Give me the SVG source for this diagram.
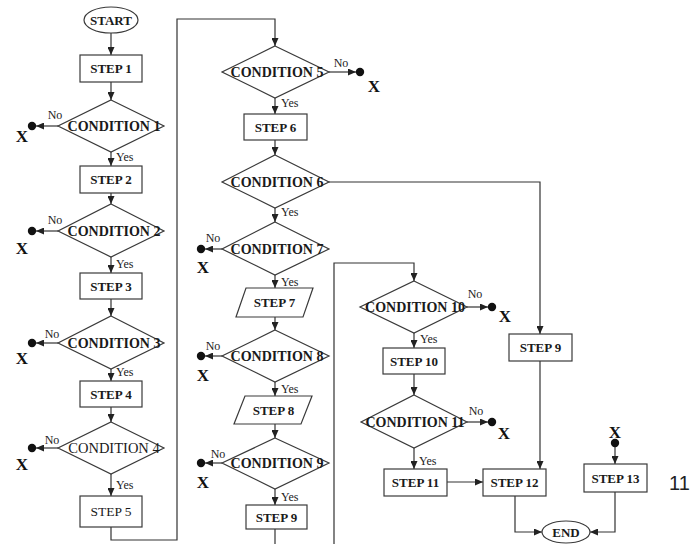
<svg xmlns="http://www.w3.org/2000/svg" width="700" height="544" viewBox="0 0 700 544">
<defs>
<style>
.sh{fill:#fff;stroke:#3a3a3a;stroke-width:1.2}
.ln{fill:none;stroke:#333;stroke-width:1.2}
.ar{marker-end:url(#ah)}
.dot{fill:#111}
.t{font-family:"Liberation Serif","Times New Roman",serif;fill:#1a1a1a;text-anchor:middle}
.b{font-weight:bold;font-size:13px}
.r{font-size:13.5px}
.c{font-weight:bold;font-size:14px}
.cr{font-size:14.5px}
.lbl{font-family:"Liberation Serif","Times New Roman",serif;font-size:12px;fill:#222}
.x{font-family:"Liberation Serif","Times New Roman",serif;font-weight:bold;font-size:17px;fill:#111;text-anchor:middle}
</style>
<marker id="ah" markerWidth="8" markerHeight="7" refX="8" refY="3.5" orient="auto" markerUnits="userSpaceOnUse">
<path d="M0,0 L8,3.5 L0,7 z" fill="#222"/>
</marker>
</defs>
<rect width="700" height="544" fill="#fff"/>

<g id="connectors">
<path class="ln ar" d="M111,33 V55"/>
<path class="ln ar" d="M111,82 V100"/>
<path class="ln ar" d="M58,126 H36"/>
<path class="ln ar" d="M111,152 V166"/>
<path class="ln ar" d="M111,193 V204"/>
<path class="ln ar" d="M58,231 H36"/>
<path class="ln ar" d="M111,257 V273"/>
<path class="ln ar" d="M111,299 V316"/>
<path class="ln ar" d="M58,343 H36"/>
<path class="ln ar" d="M111,369 V381"/>
<path class="ln ar" d="M111,407 V422"/>
<path class="ln ar" d="M58,448 H36"/>
<path class="ln ar" d="M111,474 V496"/>
<path class="ln ar" d="M111,527 V540 H177 V19 H275 V46"/>
<path class="ln ar" d="M329,72 H356"/>
<path class="ln ar" d="M275,98 V114"/>
<path class="ln ar" d="M275,140 V155"/>
<path class="ln ar" d="M329,182 H540 V334"/>
<path class="ln ar" d="M275,208 V222"/>
<path class="ln ar" d="M222,249 H205"/>
<path class="ln ar" d="M275,275 V288"/>
<path class="ln ar" d="M275,317 V330"/>
<path class="ln ar" d="M222,356 H205"/>
<path class="ln ar" d="M275,382 V396"/>
<path class="ln ar" d="M275,424 V438"/>
<path class="ln ar" d="M222,463 H205"/>
<path class="ln ar" d="M275,489 V505"/>
<path class="ln" d="M275,529 V544"/>
<path class="ln ar" d="M334,544 V263 H414 V281"/>
<path class="ln ar" d="M467,307 H488"/>
<path class="ln ar" d="M414,333 V348"/>
<path class="ln ar" d="M414,374 V395"/>
<path class="ln ar" d="M467,422 H488"/>
<path class="ln ar" d="M414,448 V469"/>
<path class="ln ar" d="M447,482 H483"/>
<path class="ln ar" d="M540,361 V469"/>
<path class="ln ar" d="M515,496 V532 H542"/>
<path class="ln ar" d="M615,492 V532 H590"/>
<path class="ln ar" d="M615,447 V464"/>
<circle class="dot" cx="32" cy="126" r="4.2"/>
<circle class="dot" cx="32" cy="231" r="4.2"/>
<circle class="dot" cx="32" cy="343" r="4.2"/>
<circle class="dot" cx="32" cy="448" r="4.2"/>
<circle class="dot" cx="360" cy="72" r="4.2"/>
<circle class="dot" cx="201" cy="249" r="4.2"/>
<circle class="dot" cx="201" cy="356" r="4.2"/>
<circle class="dot" cx="201" cy="463" r="4.2"/>
<circle class="dot" cx="492" cy="307" r="4.2"/>
<circle class="dot" cx="492" cy="422" r="4.2"/>
<circle class="dot" cx="615" cy="443" r="4.2"/>
<text class="lbl" x="55" y="119" text-anchor="middle">No</text>
<text class="lbl" x="55" y="224" text-anchor="middle">No</text>
<text class="lbl" x="52" y="338" text-anchor="middle">No</text>
<text class="lbl" x="52" y="444" text-anchor="middle">No</text>
<text class="lbl" x="341" y="67" text-anchor="middle">No</text>
<text class="lbl" x="213" y="242" text-anchor="middle">No</text>
<text class="lbl" x="213" y="350" text-anchor="middle">No</text>
<text class="lbl" x="218" y="458" text-anchor="middle">No</text>
<text class="lbl" x="475" y="298" text-anchor="middle">No</text>
<text class="lbl" x="476" y="415" text-anchor="middle">No</text>
<text class="lbl" x="116" y="161">Yes</text>
<text class="lbl" x="116" y="268">Yes</text>
<text class="lbl" x="116" y="376">Yes</text>
<text class="lbl" x="116" y="489">Yes</text>
<text class="lbl" x="281" y="107">Yes</text>
<text class="lbl" x="281" y="216">Yes</text>
<text class="lbl" x="281" y="286">Yes</text>
<text class="lbl" x="281" y="393">Yes</text>
<text class="lbl" x="281" y="501">Yes</text>
<text class="lbl" x="420" y="343">Yes</text>
<text class="lbl" x="419" y="465">Yes</text>
<text class="x" x="22" y="142">X</text>
<text class="x" x="22" y="254">X</text>
<text class="x" x="22" y="364">X</text>
<text class="x" x="22" y="470">X</text>
<text class="x" x="374" y="92">X</text>
<text class="x" x="203" y="273">X</text>
<text class="x" x="203" y="381">X</text>
<text class="x" x="203" y="488">X</text>
<text class="x" x="505" y="322">X</text>
<text class="x" x="504" y="439">X</text>
<text class="x" x="615" y="438">X</text>
</g>

<g id="start"><ellipse class="sh" cx="111" cy="20" rx="27" ry="13"/><text class="t b" x="111" y="24.5" font-size="12.5">START</text></g>
<g id="step1"><rect class="sh" x="80" y="55" width="62" height="27"/><text class="t b" x="111" y="73">STEP 1</text></g>
<g id="cond1"><polygon class="sh" points="111,100 164,126 111,152 58,126"/><text class="t c" x="114" y="131">CONDITION 1</text></g>
<g id="step2"><rect class="sh" x="80" y="166" width="62" height="27"/><text class="t b" x="111" y="184">STEP 2</text></g>
<g id="cond2"><polygon class="sh" points="111,204 164,231 111,257 58,231"/><text class="t c" x="114" y="236">CONDITION 2</text></g>
<g id="step3"><rect class="sh" x="80" y="273" width="62" height="26"/><text class="t b" x="111" y="290.5">STEP 3</text></g>
<g id="cond3"><polygon class="sh" points="111,316 164,343 111,369 58,343"/><text class="t c" x="114" y="348">CONDITION 3</text></g>
<g id="step4"><rect class="sh" x="80" y="381" width="62" height="26"/><text class="t b" x="111" y="398.5">STEP 4</text></g>
<g id="cond4"><polygon class="sh" points="111,422 164,448 111,474 58,448"/><text class="t cr" x="114" y="453">CONDITION 4</text></g>
<g id="step5"><rect class="sh" x="80" y="496" width="62" height="31"/><text class="t r" x="111" y="516">STEP 5</text></g>

<g id="cond5"><polygon class="sh" points="275,46 329,72 275,98 222,72"/><text class="t c" x="277" y="77">CONDITION 5</text></g>
<g id="step6"><rect class="sh" x="244" y="114" width="63" height="26"/><text class="t b" x="275.5" y="131.5">STEP 6</text></g>
<g id="cond6"><polygon class="sh" points="275,155 329,182 275,208 222,182"/><text class="t c" x="277" y="187">CONDITION 6</text></g>
<g id="cond7"><polygon class="sh" points="275,222 329,249 275,275 222,249"/><text class="t c" x="277" y="254">CONDITION 7</text></g>
<g id="step7"><polygon class="sh" points="246,288 313,288 303,317 236,317"/><text class="t b" x="274.5" y="307">STEP 7</text></g>
<g id="cond8"><polygon class="sh" points="275,330 329,356 275,382 222,356"/><text class="t c" x="277" y="361">CONDITION 8</text></g>
<g id="step8"><polygon class="sh" points="245,396 312,396 301,424 234,424"/><text class="t b" x="273.5" y="414.5">STEP 8</text></g>
<g id="cond9"><polygon class="sh" points="275,438 329,463 275,489 222,463"/><text class="t c" x="277" y="468">CONDITION 9</text></g>
<g id="step9a"><rect class="sh" x="246" y="505" width="61" height="24"/><text class="t b" x="276.5" y="521.5">STEP 9</text></g>

<g id="cond10"><polygon class="sh" points="414,281 467,307 414,333 360,307"/><text class="t c" x="415" y="312">CONDITION 10</text></g>
<g id="step10"><rect class="sh" x="383" y="348" width="62" height="26"/><text class="t b" x="414" y="365.5">STEP 10</text></g>
<g id="cond11"><polygon class="sh" points="414,395 467,422 414,448 361,422"/><text class="t c" x="415" y="427">CONDITION 11</text></g>
<g id="step11"><rect class="sh" x="384" y="469" width="63" height="27"/><text class="t b" x="415.5" y="487">STEP 11</text></g>
<g id="step12"><rect class="sh" x="483" y="469" width="63" height="27"/><text class="t b" x="514.5" y="487">STEP 12</text></g>
<g id="step9b"><rect class="sh" x="509" y="334" width="63" height="27"/><text class="t b" x="540.5" y="352">STEP 9</text></g>
<g id="step13"><rect class="sh" x="584" y="464" width="63" height="28"/><text class="t b" x="615.5" y="482.5">STEP 13</text></g>
<g id="end"><ellipse class="sh" cx="566" cy="532" rx="24" ry="11"/><text class="t b" x="566" y="536.5">END</text></g>
<text x="669" y="490" font-family="'Liberation Sans',Arial,sans-serif" font-size="20" fill="#222">11</text>
</svg>
